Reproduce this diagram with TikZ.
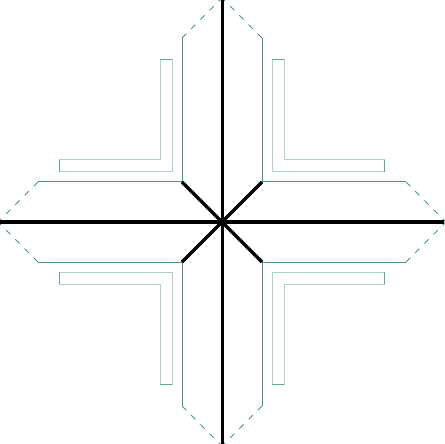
\documentclass[tikz,border=0pt]{standalone}
\usetikzlibrary{calc}
\definecolor{outerteal}{HTML}{3F9A7F}
\definecolor{lightteal}{HTML}{A9D3C6}
\definecolor{capteal}{HTML}{5EA88F}
\tikzset{
  outerline/.style={draw=outerteal, line width=1pt},
  tipline/.style={draw=outerteal, line width=0.8pt, dash pattern=on 6pt off 7pt},
  lline/.style={draw=lightteal, line width=1pt},
  capline/.style={draw=capteal, line width=1pt},
  axisline/.style={draw=black, line width=3pt},
  diagline/.style={draw=black, line width=3.4pt},
}
\begin{document}
\begin{tikzpicture}[x=1pt,y=1pt]
\useasboundingbox (-222,-222) rectangle (222,222);
\coordinate (c) at (0,0);
% outer outline (four arms)
\foreach \r in {0,90,180,270}{
  \begin{scope}[rotate=\r]
    \draw[outerline] (-40,40) -- (-40,184);
    \draw[tipline] (-40,184) -- (0,224);
    \draw[tipline] (40,184) -- (0,224);
    \draw[outerline] (40,184) -- (40,40);
  \end{scope}
}
% L shapes
\foreach \r in {0,90,180,270}{
  \begin{scope}[rotate=\r]
    \draw[lline] (-50,162.7) -- (-50,50) -- (-162.7,50);
    \draw[lline] (-62,162.7) -- (-62,62) -- (-162.7,62);
    \draw[capline] (-62,162.7) -- (-50,162.7);
    \draw[capline] (-162.7,50) -- (-162.7,62);
  \end{scope}
}
% diagonals
\coordinate (tl) at (-40,40);
\coordinate (tr) at (40,40);
\coordinate (bl) at (-40,-40);
\coordinate (br) at (40,-40);
\draw[diagline] (tl) -- (br);
\draw[diagline] (tr) -- (bl);
% axes
\coordinate (top) at (0,222);
\coordinate (bot) at (0,-222);
\coordinate (lft) at (-222,0);
\coordinate (rgt) at (222,0);
\draw[axisline] (top) -- (bot);
\draw[axisline] (lft) -- (rgt);
\end{tikzpicture}
\end{document}
